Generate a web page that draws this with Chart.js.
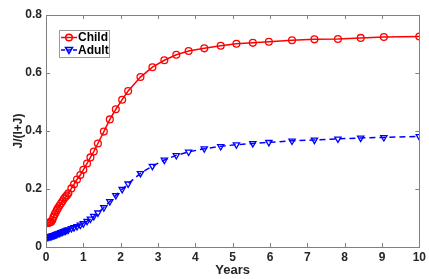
<!DOCTYPE html>
<html>
<head>
<meta charset="utf-8">
<script src="https://cdn.jsdelivr.net/npm/chart.js@4"></script>
<style>
  html, body { margin: 0; padding: 0; background: #fff; }
  #wrap { width: 429px; height: 279px; }
</style>
</head>
<body>
<div id="wrap"><canvas id="chart" width="429" height="279"></canvas></div>
<script>
// time points (years)
const years = [0.02, 0.05, 0.08, 0.11, 0.14, 0.17, 0.20, 0.23, 0.26, 0.29, 0.32, 0.36, 0.40, 0.44, 0.48, 0.52, 0.56, 0.60,
  0.68, 0.75, 0.83, 0.92, 1.00, 1.10, 1.19, 1.28, 1.39, 1.55, 1.71, 1.87, 2.04, 2.20, 2.53, 2.85, 3.17, 3.49, 3.82,
  4.24, 4.68, 5.10, 5.54, 5.97, 6.59, 7.19, 7.82, 8.43, 9.05, 10.0];

const child = [0.082, 0.083, 0.084, 0.085, 0.087, 0.093, 0.103, 0.112, 0.119, 0.127, 0.134, 0.142, 0.150, 0.158, 0.166, 0.172, 0.178, 0.185,
  0.202, 0.216, 0.233, 0.248, 0.266, 0.288, 0.309, 0.329, 0.357, 0.398, 0.440, 0.475, 0.508, 0.538, 0.586, 0.620, 0.644, 0.663, 0.676,
  0.685, 0.694, 0.701, 0.704, 0.708, 0.713, 0.716, 0.717, 0.721, 0.724, 0.726];

const adult = [0.033, 0.034, 0.035, 0.036, 0.037, 0.039, 0.040, 0.041, 0.043, 0.044, 0.046, 0.048, 0.050, 0.052, 0.054, 0.056, 0.058, 0.060,
  0.064, 0.067, 0.071, 0.076, 0.081, 0.089, 0.097, 0.106, 0.118, 0.136, 0.157, 0.178, 0.199, 0.218, 0.254, 0.279, 0.300, 0.316, 0.328,
  0.339, 0.347, 0.353, 0.357, 0.361, 0.366, 0.369, 0.373, 0.376, 0.378, 0.381];

const seriesNames = ["Child", "Adult"];
const xTicks = [0, 1, 2, 3, 4, 5, 6, 7, 8, 9, 10];
const yTicks = [0, 0.2, 0.4, 0.6, 0.8];

const FONT = "'Liberation Sans', Arial, sans-serif";

function toPoints(ys) {
  return years.map((t, i) => ({ x: t, y: ys[i] }));
}

// box around the axes with inward ticks, plus the legend box
const matlabAxes = {
  id: "matlabAxes",
  afterDraw(chart) {
    const { ctx, chartArea: a, scales } = chart;
    ctx.save();
    ctx.strokeStyle = "#808080";
    ctx.lineWidth = 1;
    ctx.strokeRect(Math.round(a.left) + 0.5, Math.round(a.top) + 0.5, Math.round(a.right - a.left), Math.round(a.bottom - a.top));
    ctx.beginPath();
    xTicks.forEach(v => {
      const px = Math.round(scales.x.getPixelForValue(v)) + 0.5;
      ctx.moveTo(px, a.bottom); ctx.lineTo(px, a.bottom - 4);
      ctx.moveTo(px, a.top); ctx.lineTo(px, a.top + 4);
    });
    yTicks.forEach(v => {
      const py = Math.round(scales.y.getPixelForValue(v)) + 0.5;
      ctx.moveTo(a.left, py); ctx.lineTo(a.left + 4, py);
      ctx.moveTo(a.right, py); ctx.lineTo(a.right - 4, py);
    });
    ctx.stroke();

    // legend
    const lx = 59, ly = 30, lw = 50, lh = 27;
    ctx.fillStyle = "#fff";
    ctx.fillRect(lx, ly, lw, lh);
    ctx.strokeStyle = "#9a9a9a";
    ctx.strokeRect(lx + 0.5, ly + 0.5, lw, lh);
    ctx.font = "bold 12px " + FONT;
    ctx.textBaseline = "middle";
    chart.data.datasets.forEach((ds, i) => {
      const cy = ly + 7.5 + i * 12.5;
      ctx.strokeStyle = ds.borderColor;
      ctx.lineWidth = 1.5;
      ctx.setLineDash(ds.borderDash ? [4, 2] : []);
      ctx.beginPath();
      ctx.moveTo(lx + 2, cy); ctx.lineTo(lx + 18, cy);
      ctx.stroke();
      ctx.setLineDash([]);
      ctx.beginPath();
      if (i === 0) {
        ctx.arc(lx + 10, cy, 3.3, 0, Math.PI * 2);
      } else {
        ctx.moveTo(lx + 6.5, cy - 2.5); ctx.lineTo(lx + 13.5, cy - 2.5); ctx.lineTo(lx + 10, cy + 3.5); ctx.closePath();
      }
      ctx.stroke();
      ctx.fillStyle = "#000";
      ctx.fillText(ds.label, lx + 19, cy + 0.5);
    });
    ctx.restore();
  }
};

new Chart(document.getElementById("chart"), {
  type: "line",
  data: {
    datasets: [
      {
        label: seriesNames[0],
        data: toPoints(child),
        borderColor: "#ff0000",
        backgroundColor: "rgba(0,0,0,0)",
        borderWidth: 1.5,
        pointStyle: "circle",
        pointRadius: 3.4,
        pointBorderWidth: 1.3,
        pointBackgroundColor: "rgba(0,0,0,0)",
        tension: 0
      },
      {
        label: seriesNames[1],
        data: toPoints(adult),
        borderColor: "#0000ff",
        backgroundColor: "rgba(0,0,0,0)",
        borderWidth: 1.5,
        borderDash: [6, 4],
        pointStyle: "triangle",
        pointRotation: 180,
        pointRadius: 3.6,
        pointBorderWidth: 1.3,
        pointBackgroundColor: "rgba(0,0,0,0)",
        tension: 0
      }
    ]
  },
  options: {
    responsive: false,
    animation: false,
    layout: { padding: { top: 15, right: 6, left: 11, bottom: 0 } },
    plugins: { legend: { display: false }, tooltip: { enabled: false } },
    scales: {
      x: {
        type: "linear",
        min: 0, max: 10,
        afterBuildTicks: s => { s.ticks = xTicks.map(v => ({ value: v })); },
        afterFit: s => { s.height = 32; },
        grid: { display: false, drawTicks: false },
        border: { display: false },
        ticks: { color: "#262626", padding: 3, font: { family: FONT, size: 12, weight: "bold" }, maxRotation: 0 },
        title: { display: true, text: "Years", color: "#262626", padding: { top: 1, bottom: 1 }, font: { family: FONT, size: 13, weight: "bold" } }
      },
      y: {
        min: 0, max: 0.8,
        afterBuildTicks: s => { s.ticks = yTicks.map(v => ({ value: v })); },
        afterFit: s => { s.width = 35; },
        grid: { display: false, drawTicks: false },
        border: { display: false },
        ticks: { color: "#262626", padding: 4, font: { family: FONT, size: 12, weight: "bold" }, callback: v => String(Math.round(v * 10) / 10) },
        title: { display: true, text: "J/(I+J)", color: "#262626", padding: { top: 0, bottom: 0 }, font: { family: FONT, size: 12, weight: "bold" } }
      }
    }
  },
  plugins: [matlabAxes]
});
</script>
</body>
</html>
